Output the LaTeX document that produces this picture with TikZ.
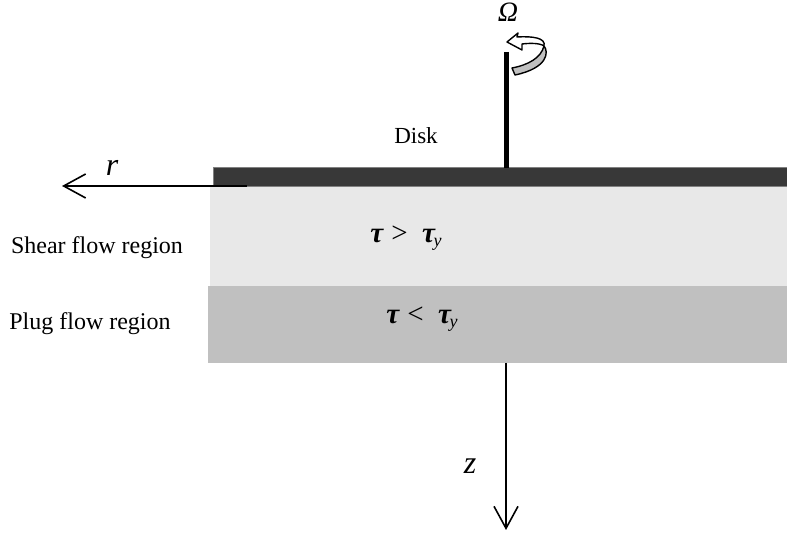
\documentclass[tikz,border=0pt]{standalone}
\usepackage{fontspec}
\setmainfont{Liberation Serif}
\definecolor{diskgray}{RGB}{56, 56, 56}
\definecolor{sheargray}{RGB}{232, 232, 232}
\definecolor{pluggray}{RGB}{192, 192, 192}
\usetikzlibrary{arrows.meta, positioning, calc}
\newcommand{\tauy}{\textbf{τ}\kern-0.05em\raisebox{-0.3ex}{\fontsize{9}{10}\selectfont y}}

\begin{document}
\begin{tikzpicture}[
    x=0.5pt, y=-0.5pt,
    layerbox/.style={anchor=north west, inner sep=0pt, outer sep=0pt},
    axisarrow/.style={line width=1pt, -{Straight Barb[length=11pt, width=12pt, line width=0.8pt]}},
    mathlabel/.style={inner sep=0pt, font=\itshape\fontsize{14.5}{17}\selectfont},
    textlabel/.style={inner sep=0pt, font=\fontsize{12}{14}\selectfont}
]
    \useasboundingbox (0,0) rectangle (787,533);

    \node[layerbox, fill=sheargray, minimum width=288.5pt, minimum height=49.5pt] (shear) at (210,187) {};
    \node[layerbox, fill=pluggray, minimum width=289.5pt, minimum height=38.5pt] (plug) at (208,286) {};
    \node[layerbox, fill=diskgray, draw=gray, line width=0.5pt, minimum width=287pt, minimum height=9.5pt] (disk) at (213,168) {};

    % Labels
    \node[textlabel, font=\fontsize{11.5}{14}\selectfont] (disklabel) at (416,136) {Disk};
    \node[textlabel] (shearlabel) at (97,248) {Shear flow region};
    \node[textlabel] (pluglabel) at (90,324) {Plug flow region};
    \node[mathlabel, font=\itshape\fontsize{16}{18}\selectfont] (rlabel) at (112,168) {r};
    \node[mathlabel, font=\itshape\fontsize{16}{18}\selectfont] (zlabel) at (470,466) {z};
    \node[mathlabel, font=\itshape\fontsize{14}{16}\selectfont] (omega) at (508,12) {Ω};
    \node[mathlabel] (taugt) at (406,238) {\textbf{τ} \textup{>}\ \ \tauy};
    \node[mathlabel] (tault) at (422,319) {\textbf{τ} \textup{<}\ \ \tauy};

    % Shaft
    \coordinate (shafttop) at (506,52);
    \coordinate (shaftbase) at (506,168);
    \draw[line width=2.5pt] (shafttop) -- (shaftbase);

    % Arrows
    \coordinate (rstart) at (247,186);
    \coordinate (rend) at (62,186);
    \coordinate (zstart) at (506,363);
    \coordinate (zend) at (506,530);
    \draw[axisarrow] (rstart) -- (rend);
    \draw[axisarrow] (zstart) -- (zend);

    % Rotation sign
    \draw[fill=pluggray, line width=0.7pt, line join=round]
        (512,68) .. controls (528,65) and (541,58) .. (544,46)
        .. controls (549,52) and (548,68) .. (515,75) -- cycle;
    \draw[fill=white, line width=0.7pt, line join=round]
        (507,42) -- (518,33) -- (517,37)
        .. controls (533,36) and (546,38) .. (544,46)
        .. controls (540,43) and (530,43) .. (522,44)
        -- (522,50) -- cycle;
\end{tikzpicture}
\end{document}
